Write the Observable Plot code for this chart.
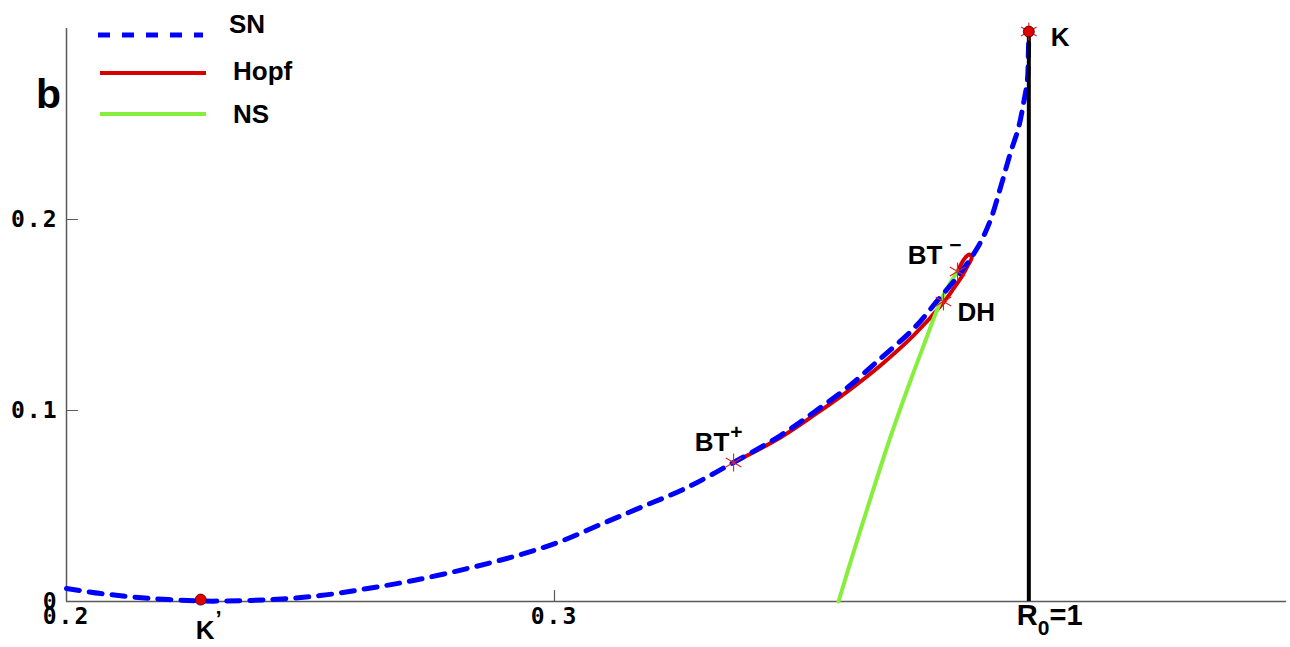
<!DOCTYPE html>
<html>
<head>
<meta charset="utf-8">
<script src="https://cdn.jsdelivr.net/npm/d3@7"></script>
<script src="https://cdn.jsdelivr.net/npm/@observablehq/plot@0.6"></script>
<style>
  html, body { margin: 0; padding: 0; background: #fff; }
  #wrap { position: relative; width: 1290px; height: 647px; }
  #wrap svg { position: absolute; left: 0; top: 0; }
</style>
</head>
<body>
<div id="wrap"></div>
<script>
// ---- data ----
// SN (saddle-node) curve
const snX = [0.2000, 0.2070, 0.2172, 0.2275, 0.2309, 0.2418, 0.2520, 0.2617, 0.2711, 0.2822, 0.2924, 0.3012, 0.3094, 0.3176, 0.3268, 0.3367, 0.3463, 0.3531, 0.3600, 0.3668, 0.3736, 0.3785, 0.3826, 0.3867, 0.3893, 0.3914, 0.3934, 0.3951, 0.3961, 0.3969, 0.3971, 0.3972];
const snY = [0.0068, 0.0042, 0.0016, 0.0003, 0.0002, 0.0010, 0.0031, 0.0068, 0.0110, 0.0173, 0.0241, 0.0314, 0.0403, 0.0492, 0.0592, 0.0728, 0.0869, 0.0990, 0.1120, 0.1272, 0.1429, 0.1576, 0.1702, 0.1853, 0.1995, 0.2168, 0.2346, 0.2482, 0.2607, 0.2728, 0.2869, 0.2984];
// Hopf curve (BT+ -> DH -> turning tip -> BT-)
const hopfX = [0.3367, 0.3463, 0.3531, 0.3600, 0.3668, 0.3736, 0.3797, 0.3818, 0.3836, 0.3848, 0.3855, 0.3850, 0.3842, 0.3834, 0.3826];
const hopfY = [0.0728, 0.0859, 0.0974, 0.1099, 0.1236, 0.1393, 0.1565, 0.1639, 0.1707, 0.1764, 0.1801, 0.1817, 0.1801, 0.1770, 0.1728];
// NS (Neimark-Sacker) curve
const nsX = [0.3582, 0.3617, 0.3652, 0.3686, 0.3721, 0.3756, 0.3797, 0.3826];
const nsY = [0.0000, 0.0293, 0.0576, 0.0843, 0.1097, 0.1337, 0.1604, 0.1728];
// special points
const kPoint = {x: 0.3972, y: 0.2984};
const kPrimePoint = {x: 0.2275, y: 0.0010};
const r0Line = {x: 0.3972, y1: 0, y2: 0.2984};
const starNames = ["BT+", "BT-", "DH", "K"];
const starX = [0.3367, 0.3826, 0.3797, 0.3972];
const starY = [0.0728, 0.1728, 0.1571, 0.2984];
// axis ticks
const xTicks = [0.2, 0.3];
const xTickLabels = ["0.2", "0.3"];
const yTicks = [0, 0.1, 0.2];
const yTickLabels = ["0", "0.1", "0.2"];
// legend
const legendNames = ["SN", "Hopf", "NS"];
const legendColors = ["#0000ff", "#d60000", "#86ee3c"];

// ---- build ----
const sn = snX.map((x, i) => ({x, y: snY[i]}));
const hopf = hopfX.map((x, i) => ({x, y: hopfY[i]}));
const ns = nsX.map((x, i) => ({x, y: nsY[i]}));
const stars = starX.map((x, i) => ({name: starNames[i], x, y: starY[i]}));

const tickShape = {draw(ctx, l) { ctx.moveTo(0, 0); ctx.lineTo(0, -l); }};
const SANS = "Liberation Sans, Arial, Helvetica, sans-serif";
const MONO = "DejaVu Sans Mono, Liberation Mono, monospace";
const axisColor = "#5a5a5a";

const labelDefs = [
  {text: "K", x: kPoint.x, y: kPoint.y, dx: 22, dy: 6, anchor: "start"},
  {text: "K^’", x: kPrimePoint.x, y: kPrimePoint.y, dx: -5, dy: 31, anchor: "start"},
  {text: "BT^+", x: starX[0], y: starY[0], dx: 9, dy: -20, anchor: "end"},
  {text: "BT^−", x: starX[1], y: starY[1], dx: 4, dy: -16, anchor: "end"},
  {text: "DH", x: starX[2], y: starY[2], dx: 14, dy: 11, anchor: "start"},
];

const labelMarks = labelDefs.map(d => Plot.text([d], {
  x: "x", y: "y", text: "text", dx: d.dx, dy: d.dy, textAnchor: d.anchor,
  fontFamily: SANS, fontWeight: "bold", fontSize: 26, fill: "#000"
}));

const chart = Plot.plot({
  width: 1290,
  height: 647,
  marginLeft: 66,
  marginRight: 4,
  marginTop: 28,
  marginBottom: 46,
  x: {domain: [0.2, 0.45], axis: null},
  y: {domain: [0, 0.3], axis: null},
  marks: [
    // axis lines
    Plot.ruleY([0], {stroke: axisColor, strokeWidth: 1.5}),
    Plot.ruleX([0.2], {stroke: axisColor, strokeWidth: 1.5}),
    // inward ticks
    Plot.vector(yTicks.slice(1), {y: d => d, frameAnchor: "left", rotate: 90, length: 11, anchor: "start", shape: tickShape, stroke: axisColor, strokeWidth: 1.2}),
    Plot.vector(xTicks.slice(1), {x: d => d, frameAnchor: "bottom", rotate: 0, length: 11, anchor: "start", shape: tickShape, stroke: axisColor, strokeWidth: 1.2}),
    // tick labels
    Plot.text(yTicks, {y: d => d, text: (d, i) => yTickLabels[i], frameAnchor: "left", dx: -8, textAnchor: "end", fontFamily: MONO, fontWeight: "bold", fontSize: 23, fill: "#000"}),
    Plot.text(xTicks, {x: d => d, text: (d, i) => xTickLabels[i], frameAnchor: "bottom", dy: 22, fontFamily: MONO, fontWeight: "bold", fontSize: 23, fill: "#000"}),
    Plot.text([r0Line], {x: "x", text: () => "R_0=1", frameAnchor: "bottom", dy: 23, dx: -12, textAnchor: "start", fontFamily: SANS, fontWeight: "bold", fontSize: 29, fill: "#000"}),
    // curves
    Plot.line(hopf, {x: "x", y: "y", stroke: legendColors[1], strokeWidth: 4, curve: "catmull-rom"}),
    Plot.line(ns, {x: "x", y: "y", stroke: legendColors[2], strokeWidth: 4, curve: "catmull-rom"}),
    Plot.line(sn, {x: "x", y: "y", stroke: legendColors[0], strokeWidth: 5, strokeDasharray: "13,10", curve: "catmull-rom"}),
    // R0 = 1 line
    Plot.ruleX([r0Line], {x: "x", y1: "y1", y2: "y2", stroke: "#000", strokeWidth: 4}),
    // stars
    Plot.dot(stars, {x: "x", y: "y", symbol: "asterisk", r: 8.5, stroke: "#dd2222", strokeWidth: 1.1}),
    // K, K' dots
    Plot.dot([kPoint, kPrimePoint], {x: "x", y: "y", r: 5.5, fill: "#e00000", stroke: "#300", strokeWidth: 0.8}),
    ...labelMarks
  ]
});

// superscripts / subscripts, letter spacing for tick labels
d3.select(chart).selectAll("text").each(function() {
  const t = this.textContent;
  if (/^0(\.\d)?$/.test(t)) d3.select(this).attr("letter-spacing", 2);
  const m = t.match(/^([^\^_]*)([\^_])(.*)$/);
  if (!m) return;
  const [, base, kind, rest] = m;
  const el = d3.select(this);
  el.text(null);
  if (kind === "^") {
    el.append("tspan").text(base);
    el.append("tspan").attr("dx", base === "BT" && rest === "−" ? 7 : 1).attr("dy", rest === "’" ? -13 : -12).attr("font-size", rest === "’" ? 22 : 21).text(rest);
  } else {
    // subscript: R_0=1
    el.append("tspan").text(base);
    el.append("tspan").attr("dy", 10).attr("font-size", 21).text(rest.charAt(0));
    el.append("tspan").attr("dy", -10).text(rest.slice(1));
  }
});

const wrap = document.getElementById("wrap");
wrap.appendChild(chart);

// legend overlay and panel letter
const lg = d3.select(wrap).append("svg")
  .attr("width", 1290).attr("height", 647)
  .style("pointer-events", "none");
const legendLineY = [35, 73, 114];
const legendTextX = [229, 233, 233];
const legendTextBase = [33, 80, 123];
legendNames.forEach((name, i) => {
  lg.append("line")
    .attr("x1", i === 0 ? 98 : 100).attr("x2", i === 0 ? 203 : 206)
    .attr("y1", legendLineY[i]).attr("y2", legendLineY[i])
    .attr("stroke", legendColors[i])
    .attr("stroke-width", i === 0 ? 5 : 4)
    .attr("stroke-dasharray", i === 0 ? "12,12" : null);
  lg.append("text")
    .attr("x", legendTextX[i]).attr("y", legendTextBase[i])
    .attr("font-family", SANS).attr("font-weight", "bold").attr("font-size", 26)
    .text(name);
});
lg.append("text").attr("x", 36).attr("y", 108)
  .attr("font-family", SANS).attr("font-weight", "bold").attr("font-size", 41)
  .text("b");
</script>
</body>
</html>
